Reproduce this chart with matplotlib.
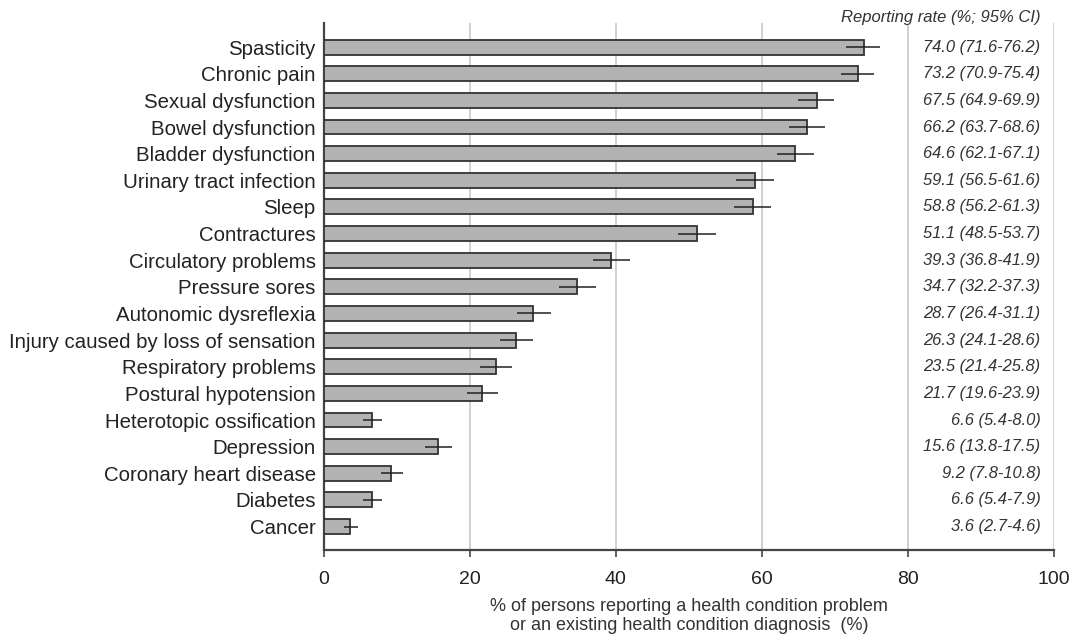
import numpy as np
import matplotlib
matplotlib.use('Agg')
import matplotlib.pyplot as plt

plt.rcParams['font.family'] = ['Liberation Sans', 'DejaVu Sans']

conditions = ['Spasticity', 'Chronic pain', 'Sexual dysfunction', 'Bowel dysfunction',
              'Bladder dysfunction', 'Urinary tract infection', 'Sleep', 'Contractures',
              'Circulatory problems', 'Pressure sores', 'Autonomic dysreflexia',
              'Injury caused by loss of sensation', 'Respiratory problems',
              'Postural hypotension', 'Heterotopic ossification', 'Depression',
              'Coronary heart disease', 'Diabetes', 'Cancer']
rate = [74.0, 73.2, 67.5, 66.2, 64.6, 59.1, 58.8, 51.1, 39.3, 34.7, 28.7, 26.3,
        23.5, 21.7, 6.6, 15.6, 9.2, 6.6, 3.6]
ci_low = [71.6, 70.9, 64.9, 63.7, 62.1, 56.5, 56.2, 48.5, 36.8, 32.2, 26.4, 24.1,
          21.4, 19.6, 5.4, 13.8, 7.8, 5.4, 2.7]
ci_high = [76.2, 75.4, 69.9, 68.6, 67.1, 61.6, 61.3, 53.7, 41.9, 37.3, 31.1, 28.6,
           25.8, 23.9, 8.0, 17.5, 10.8, 7.9, 4.6]
xticks = [0, 20, 40, 60, 80, 100]

rate = np.array(rate)
lo = rate - np.array(ci_low)
hi = np.array(ci_high) - rate
y = np.arange(len(conditions))

fig = plt.figure(figsize=(10.73, 6.34), dpi=100)
ax = fig.add_axes([0.302, 0.1325, 0.680, 0.831])

ax.barh(y, rate, height=0.56, color='#b3b3b3', edgecolor='#333333', linewidth=1.3, zorder=3)
ax.errorbar(rate, y, xerr=[lo, hi], fmt='none', ecolor='#222222', elinewidth=1.1,
            capsize=0, zorder=4)

ax.set_xlim(0, 100)
ax.set_ylim(len(conditions) - 0.12, -0.9)
ax.set_xticks(xticks)
ax.set_yticks(y)
ax.set_yticklabels(conditions, fontsize=14.7, color='#222222')
ax.tick_params(axis='y', length=0, pad=6)
ax.tick_params(axis='x', length=5, width=1.2, color='#444444', labelsize=14,
               labelcolor='#222222', pad=10)
ax.grid(axis='x', color='#c8c8c8', linewidth=1.2, zorder=0)
for s in ['top', 'right']:
    ax.spines[s].set_visible(False)
for s in ['left', 'bottom']:
    ax.spines[s].set_color('#444444')
    ax.spines[s].set_linewidth(1.6)

for yi, r, l, h in zip(y, rate, ci_low, ci_high):
    ax.text(98.2, yi, '%.1f (%.1f-%.1f)' % (r, l, h), ha='right', va='center',
            fontsize=11.9, style='italic', color='#333333')
ax.text(98.2, -1.1, 'Reporting rate (%; 95% CI)', ha='right', va='center',
        fontsize=12, style='italic', color='#333333', clip_on=False, zorder=5,
        bbox=dict(facecolor='white', edgecolor='none', pad=0))

ax.set_xlabel('% of persons reporting a health condition problem\n'
              'or an existing health condition diagnosis  (%)',
              fontsize=13, color='#333333', labelpad=7, linespacing=1.15)

fig.savefig('out.png', dpi=100)
